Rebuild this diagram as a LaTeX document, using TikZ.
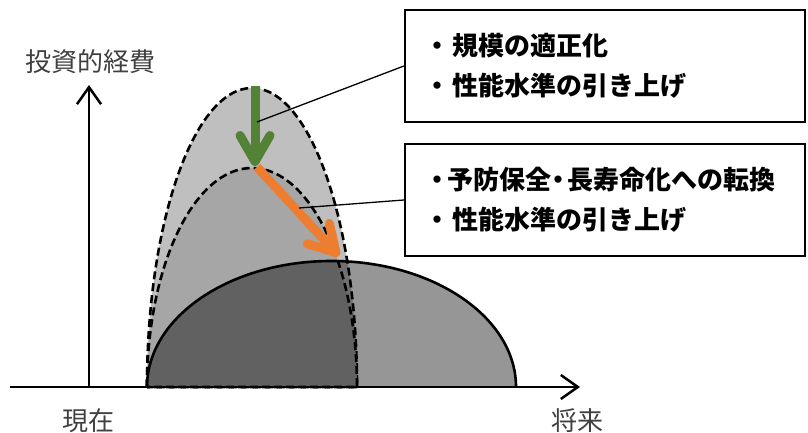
\documentclass[tikz,border=0pt]{standalone}
\usepackage{fontspec}
\usetikzlibrary{arrows.meta}
\newfontfamily\jp{Noto Sans CJK JP}
\definecolor{lgray}{HTML}{BFBFBF}
\definecolor{mgray}{HTML}{A6A6A6}
\definecolor{xgreen}{HTML}{548235}
\definecolor{xorange}{HTML}{ED7D31}
\definecolor{labelc}{HTML}{404040}
\newcommand{\nbul}{\makebox[29pt][l]{・}}
\newcommand{\fbul}{\makebox[23pt][l]{・}}
\newcommand{\mbul}{\makebox[16pt][c]{\hspace{-1pt}・}}
\tikzset{
  dashedge/.style={draw=black, line width=2.6pt, dash pattern=on 8pt off 4pt},
  solidedge/.style={draw=black, line width=2.6pt},
  axisline/.style={line width=2.5pt, -{Straight Barb[length=17pt,width=24pt,line width=2.5pt]}},
  bigarrow/.style={line width=9pt, -{Straight Barb[length=26pt,width=30pt,round]}},
  textbox/.style={draw=black, line width=2.2pt, text width=362pt, minimum height=112pt,
    inner xsep=19pt, inner ysep=0pt, align=left, font=\jp\bfseries\fontsize{26}{40}\selectfont},
  axislabel/.style={font=\jp\fontsize{26}{30}\selectfont, text=labelc, inner sep=0pt},
  leader/.style={line width=1.3pt, draw=black}
}
\begin{document}
\begin{tikzpicture}[x=1pt,y=1pt]
\useasboundingbox (0,0) rectangle (808,433);
% outer dashed half ellipse
\path[fill=lgray] (147,46) arc[start angle=180,end angle=0,x radius=105,y radius=299] -- cycle;
\path[dashedge] (147,46) arc[start angle=180,end angle=0,x radius=105,y radius=299] -- cycle;
% inner dashed half ellipse
\path[fill=mgray] (147,46) arc[start angle=180,end angle=0,x radius=105,y radius=219] -- cycle;
\path[dashedge] (147,46) arc[start angle=180,end angle=0,x radius=105,y radius=219] -- cycle;
% solid half ellipse
\path[fill=black, fill opacity=0.41] (147,46) arc[start angle=180,end angle=0,x radius=184.5,y radius=126] -- cycle;
\path[solidedge] (147,46) arc[start angle=180,end angle=0,x radius=184.5,y radius=126];
% arrows
\coordinate (gs) at (255,347);
\coordinate (gt) at (255,267);
\coordinate (os) at (257,266);
\coordinate (ot) at (339,177);
\draw[bigarrow, draw=xgreen] (gs) -- (gt);
\draw[bigarrow, draw=xorange] (os) -- (ot);
% boxes
\node[textbox] (b1) at (605,367) {\nbul 規模の適正化\\\nbul 性能水準の引き上げ};
\node[textbox] (b2) at (605,233) {\fbul 予防保全\mbul 長寿命化への転換\\\nbul 性能水準の引き上げ};
\coordinate (p1) at (257,311);
\coordinate (p2) at (299,225);
\draw[leader] (b1.west) -- (p1);
\draw[leader] (b2.west) -- (p2);
% axes
\coordinate (o) at (89,46);
\coordinate (xs) at (10,46);
\coordinate (xe) at (580,46);
\coordinate (ye) at (89,348);
\draw[axisline] (xs) -- (xe);
\draw[axisline] (o) -- (ye);
\node[axislabel] (yl) at (90,371) {投資的経費};
\node[axislabel] (l1) at (88,12) {現在};
\node[axislabel] (l2) at (577,12) {将来};
\end{tikzpicture}
\end{document}
